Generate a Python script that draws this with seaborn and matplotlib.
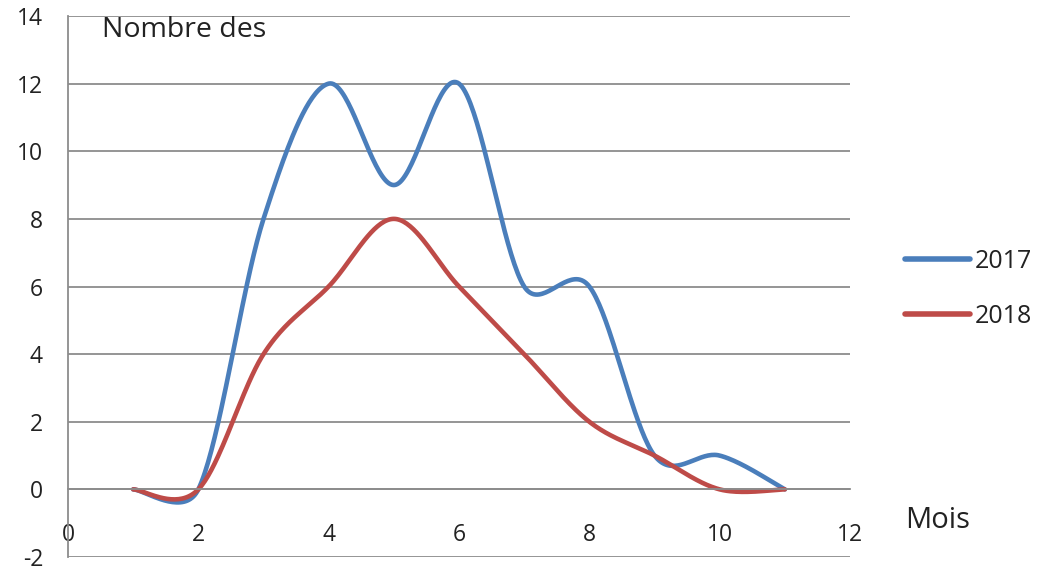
import numpy as np
import pandas as pd
import matplotlib
matplotlib.use("Agg")
import matplotlib.pyplot as plt
import seaborn as sns

# ---- data ----
mois = [1, 2, 3, 4, 5, 6, 7, 8, 9, 10, 11]
serie_2017 = [0, 0, 8, 12, 9, 12, 6, 6, 1, 1, 0]
serie_2018 = [0, 0, 4, 6, 8, 6, 4, 2, 1, 0, 0]
series_names = ["2017", "2018"]
x_ticks = [0, 2, 4, 6, 8, 10, 12]
y_ticks = [-2, 0, 2, 4, 6, 8, 10, 12, 14]
colors = ["#4a7ebb", "#be4b48"]

sns.set_style("white")
plt.rcParams["font.family"] = ["Open Sans", "DejaVu Sans"]
plt.rcParams["axes.unicode_minus"] = False

fig = plt.figure(figsize=(10.4, 5.88), dpi=100)
ax = fig.add_axes([68 / 1040, 1 - 557 / 588, (850 - 68) / 1040, (557 - 16) / 588])
ax.set_xlim(0, 12)
ax.set_ylim(-2, 14)


def smooth(x, y, ax, n=40):
    """Excel-style smoothed line: Bezier through the points, control arms
    computed in display space and limited to half the segment length."""
    p = ax.transData.transform(np.column_stack([x, y]).astype(float))
    out = []
    f = 1.0 / 6.0
    for i in range(len(p) - 1):
        p0 = p[i - 1] if i > 0 else p[i]
        p1 = p[i]
        p2 = p[i + 1]
        p3 = p[i + 2] if i + 2 < len(p) else p[i + 1]
        d12 = np.linalg.norm(p2 - p1)
        d02 = np.linalg.norm(p2 - p0)
        d13 = np.linalg.norm(p3 - p1)
        f1 = f if d02 * f <= d12 / 2 or d02 == 0 else d12 / (2 * d02)
        f2 = f if d13 * f <= d12 / 2 or d13 == 0 else d12 / (2 * d13)
        c1 = p1 + (p2 - p0) * f1
        c2 = p2 - (p3 - p1) * f2
        t = np.linspace(0, 1, n, endpoint=(i == len(p) - 2))[:, None]
        b = ((1 - t) ** 3) * p1 + 3 * ((1 - t) ** 2) * t * c1 + 3 * (1 - t) * t ** 2 * c2 + t ** 3 * p2
        out.append(b)
    out = ax.transData.inverted().transform(np.vstack(out))
    return out[:, 0], out[:, 1]


frames = []
for name, vals in zip(series_names, [serie_2017, serie_2018]):
    sx, sy = smooth(mois, vals, ax)
    frames.append(pd.DataFrame({"x": sx, "y": sy, "serie": name}))
df = pd.concat(frames, ignore_index=True)

sns.lineplot(data=df, x="x", y="y", hue="serie", palette=colors, sort=False,
             estimator=None, linewidth=3.3, ax=ax, legend=True)

ax.set_xlim(0, 12)
ax.set_ylim(-2, 14)
ax.set_xticks(x_ticks)
ax.set_yticks(y_ticks)
ax.set_xlabel("")
ax.set_ylabel("")

grid_c = "#8c8c8c"
for yv in y_ticks:
    ax.axhline(yv, color=grid_c, lw=1.3, zorder=0)

for s in ["top", "right"]:
    ax.spines[s].set_visible(False)
ax.spines["left"].set_color(grid_c)
ax.spines["left"].set_linewidth(1.3)
ax.spines["bottom"].set_position(("data", 0))
ax.spines["bottom"].set_color(grid_c)
ax.spines["bottom"].set_linewidth(1.3)

ax.tick_params(axis="x", direction="out", length=5, width=1.3, color=grid_c,
               pad=19, labelsize=16.5, labelcolor="#222222")
ax.tick_params(axis="y", direction="out", length=5, width=1.3, color=grid_c,
               pad=13, labelsize=16.5, labelcolor="#222222")

fig.text(102 / 1040, 1 - 37 / 588, "Nombre des", fontsize=20.5, color="#222222",
         ha="left", va="baseline")
fig.text(905 / 1040, 1 - 528 / 588, "Mois", fontsize=21, color="#222222",
         ha="left", va="baseline")

handles, labels = ax.get_legend_handles_labels()
leg = ax.legend(handles, labels, loc="center left",
                bbox_to_anchor=(905 / 1040, 1 - 289 / 588), bbox_transform=fig.transFigure,
                frameon=False, fontsize=18, handlelength=2.6, handletextpad=0.2,
                labelspacing=1.2, borderpad=0, borderaxespad=0)
for line in leg.get_lines():
    line.set_linewidth(4)
for t in leg.get_texts():
    t.set_color("#222222")

fig.savefig("out.png", dpi=100)
